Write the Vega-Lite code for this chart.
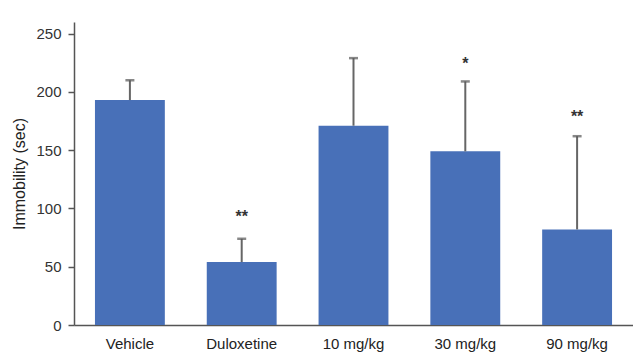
{
  "$schema": "https://vega.github.io/schema/vega-lite/v6.json",
  "width": 559,
  "height": 303,
  "autosize": {"type": "none"},
  "padding": {"left": 74, "top": 22, "right": 0, "bottom": 31},
  "background": "white",
  "config": {
    "view": {"stroke": null},
    "font": "Liberation Sans",
    "axis": {"labelFont": "Liberation Sans", "titleFont": "Liberation Sans"}
  },
  "data": {
    "values": [
      {"group": "Vehicle", "mean": 193, "upper": 210, "sig": "", "sigY": 0},
      {"group": "Duloxetine", "mean": 54, "upper": 74, "sig": "**", "sigY": 94},
      {"group": "10 mg/kg", "mean": 171, "upper": 229, "sig": "", "sigY": 0},
      {"group": "30 mg/kg", "mean": 149, "upper": 209, "sig": "*", "sigY": 226},
      {"group": "90 mg/kg", "mean": 82, "upper": 162, "sig": "**", "sigY": 180}
    ]
  },
  "encoding": {
    "x": {
      "field": "group",
      "type": "nominal",
      "sort": null,
      "scale": {"paddingInner": 0.375, "paddingOuter": 0.1875},
      "axis": {
        "title": null,
        "labelAngle": 0,
        "ticks": false,
        "labelPadding": 11,
        "labelFontSize": 15,
        "labelColor": "#222222",
        "domainColor": "#555555",
        "domainWidth": 1.5
      }
    }
  },
  "layer": [
    {
      "mark": {"type": "bar", "color": "#4870B8"},
      "encoding": {
        "y": {
          "field": "mean",
          "type": "quantitative",
          "scale": {"domain": [0, 250]},
          "axis": {
            "title": "Immobility (sec)",
            "values": [0, 50, 100, 150, 200, 250],
            "grid": false,
            "tickSize": 6,
            "tickColor": "#555555",
            "tickWidth": 1.5,
            "domainColor": "#555555",
            "domainWidth": 1.5,
            "labelPadding": 7,
            "labelFontSize": 15,
            "labelColor": "#333333",
            "titleFontSize": 16,
            "titleFontWeight": "normal",
            "titleColor": "#222222",
            "titlePadding": 8
          }
        }
      }
    },
    {
      "mark": {"type": "rule", "color": "#666666", "strokeWidth": 2},
      "encoding": {
        "y": {"field": "mean", "type": "quantitative"},
        "y2": {"field": "upper"}
      }
    },
    {
      "mark": {"type": "tick", "color": "#555555", "thickness": 2.5, "size": 9},
      "encoding": {
        "y": {"field": "upper", "type": "quantitative"}
      }
    },
    {
      "mark": {"type": "text", "fontSize": 16, "fontWeight": "bold", "color": "#333333", "baseline": "top", "dy": -6},
      "encoding": {
        "y": {"field": "sigY", "type": "quantitative"},
        "text": {"field": "sig"}
      }
    }
  ]
}
